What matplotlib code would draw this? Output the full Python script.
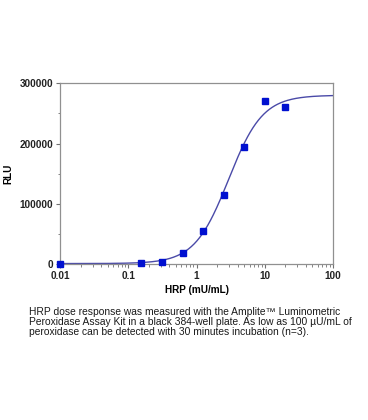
import numpy as np
import matplotlib
matplotlib.use("Agg")
import matplotlib.pyplot as plt
from matplotlib.ticker import LogLocator, MultipleLocator, FixedLocator, NullFormatter

plt.rcParams['font.family'] = ['Liberation Sans', 'DejaVu Sans']

# Data
hrp = [0.01, 0.156, 0.3125, 0.625, 1.25, 2.5, 5, 10, 20]
rlu = [1000, 2000, 3500, 18000, 55000, 115000, 195000, 270000, 260000]

# 4-parameter logistic fit parameters (estimated from the drawn curve)
fit_bottom = 1000
fit_top = 280000
fit_ec50 = 2.95
fit_hill = 1.74

x_ticks = [0.01, 0.1, 1, 10, 100]
x_ticklabels = ['0.01', '0.1', '1', '10', '100']
y_ticks = [0, 100000, 200000, 300000]
y_ticklabels = ['0', '100000', '200000', '300000']

caption = ("HRP dose response was measured with the Amplite\u2122 Luminometric\n"
           "Peroxidase Assay Kit in a black 384-well plate. As low as 100 \u00b5U/mL of\n"
           "peroxidase can be detected with 30 minutes incubation (n=3).")

fig = plt.figure(figsize=(3.68, 4.2), dpi=100)
ax = fig.add_axes([0.163, 0.371, 0.742, 0.431])

xs = np.logspace(-2, 2, 400)
ys = fit_bottom + (fit_top - fit_bottom) / (1 + (fit_ec50 / xs) ** fit_hill)
ax.plot(xs, ys, color='#4a4aa8', lw=1.0, zorder=2)
ax.plot(hrp, rlu, 's', color='#0010d0', ms=4, zorder=3, clip_on=False)

ax.set_xscale('log')
ax.set_xlim(0.01, 100)
ax.set_ylim(0, 300000)
ax.xaxis.set_major_locator(FixedLocator(x_ticks))
ax.set_xticklabels(x_ticklabels)
ax.xaxis.set_minor_locator(LogLocator(base=10, subs=np.arange(2, 10)))
ax.xaxis.set_minor_formatter(NullFormatter())
ax.set_yticks(y_ticks)
ax.set_yticklabels(y_ticklabels)
ax.yaxis.set_minor_locator(MultipleLocator(50000))

for s in ax.spines.values():
    s.set_color('#909090')
    s.set_linewidth(0.9)
ax.tick_params(which='major', length=3, width=0.8, color='#707070', labelsize=7.2, pad=2)
ax.tick_params(which='minor', length=1.8, width=0.6, color='#707070')
for lbl in ax.get_xticklabels() + ax.get_yticklabels():
    lbl.set_fontweight('bold')
    lbl.set_color('#222222')

ax.set_xlabel('HRP (mU/mL)', fontsize=7.2, fontweight='bold', labelpad=3)
ax.set_ylabel('RLU', fontsize=7.2, fontweight='bold', labelpad=4)

fig.text(0.079, 0.269, caption, fontsize=7.35, va='top', ha='left',
         color='#1a1a1a', linespacing=1.02)

fig.savefig('out.png', dpi=100)
